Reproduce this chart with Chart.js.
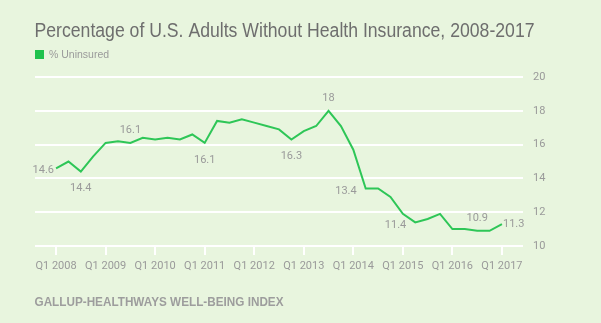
<!DOCTYPE html>
<html lang="en">
<head>
  <meta charset="UTF-8">
  <title>Percentage of U.S. Adults Without Health Insurance, 2008-2017</title>
  <script src="https://cdn.jsdelivr.net/npm/chart.js"></script>
  <style>
    html, body {
      margin: 0;
      padding: 0;
      background-color: #e8f5de;
      overflow: hidden;
    }
    #uninsuredChart {
      position: absolute;
      left: 0;
      top: 0;
    }
  </style>
</head>
<body>
  <canvas id="uninsuredChart" width="601" height="323"></canvas>

  <script>
    // Q1 2008 .. Q1 2017, one value per quarter
    const uninsured = [
      14.6, 15.0, 14.4, 15.3, 16.1, 16.2, 16.1, 16.4, 16.3, 16.4, 16.3, 16.6,
      16.1, 17.4, 17.3, 17.5, 17.3, 17.1, 16.9, 16.3, 16.8, 17.1, 18.0, 17.1,
      15.7, 13.4, 13.4, 12.9, 11.9, 11.4, 11.6, 11.9, 11.0, 11.0, 10.9, 10.9,
      11.3
    ];
    const tickLabels = ['Q1 2008', 'Q1 2009', 'Q1 2010', 'Q1 2011', 'Q1 2012',
      'Q1 2013', 'Q1 2014', 'Q1 2015', 'Q1 2016', 'Q1 2017'];
    const yTicks = [10, 12, 14, 16, 18, 20];
    // quarters that carry a value label
    const labeled = [0, 2, 6, 12, 19, 22, 25, 29, 34, 36];

    const titleText = 'Percentage of U.S. Adults Without Health Insurance, 2008-2017';
    const seriesName = '% Uninsured';
    const sourceText = 'GALLUP-HEALTHWAYS WELL-BEING INDEX';

    const green = '#2ec657';
    const grey = '#9a9a9a';

    // where each value label sits relative to its point
    const labelSpot = {
      0: 'left', 2: 'below', 6: 'above', 12: 'below', 19: 'below',
      22: 'above', 25: 'leftLow', 29: 'leftLow', 34: 'above', 36: 'right'
    };

    // the original uses a condensed face, so squeeze text to its width
    function narrowText(ctx, txt, x, y, width) {
      const w = ctx.measureText(txt).width;
      ctx.save();
      ctx.translate(x, y);
      ctx.scale(width / w, 1);
      ctx.fillText(txt, 0, 0);
      ctx.restore();
    }

    const textPlugin = {
      id: 'texts',
      beforeDraw(chart) {
        const ctx = chart.ctx;
        ctx.save();
        ctx.textBaseline = 'alphabetic';
        ctx.textAlign = 'left';
        ctx.fillStyle = '#6e6e6e';
        ctx.font = '20px "Liberation Sans", sans-serif';
        narrowText(ctx, titleText, 34.5, 36.5, 500);

        ctx.fillStyle = '#1fc24d';
        ctx.fillRect(35, 50, 9, 9);
        ctx.fillStyle = grey;
        ctx.font = '10.5px "Liberation Sans", sans-serif';
        ctx.fillText(seriesName, 49, 58);

        ctx.fillStyle = '#9d9d9d';
        ctx.font = 'bold 13px "Liberation Sans", sans-serif';
        narrowText(ctx, sourceText, 34.5, 305.5, 249);
        ctx.restore();
      },
      afterDatasetsDraw(chart) {
        const ctx = chart.ctx;
        const pts = chart.getDatasetMeta(0).data;
        ctx.save();
        ctx.fillStyle = grey;
        ctx.font = '11px Roboto, sans-serif';
        labeled.forEach(i => {
          const p = pts[i];
          const txt = String(uninsured[i]).replace(/\.0$/, '');
          const spot = labelSpot[i];
          ctx.textBaseline = 'middle';
          if (spot === 'left') {
            ctx.textAlign = 'right';
            ctx.fillText(txt, p.x - 2, p.y + 2);
          } else if (spot === 'leftLow') {
            ctx.textAlign = 'right';
            ctx.fillText(txt, p.x - 9, p.y + 3);
          } else if (spot === 'right') {
            ctx.textAlign = 'left';
            ctx.fillText(txt, p.x + 1, p.y);
          } else if (spot === 'above') {
            ctx.textAlign = 'center';
            ctx.fillText(txt, p.x, p.y - 13);
          } else {
            ctx.textAlign = 'center';
            ctx.fillText(txt, p.x, p.y + 17);
          }
        });
        ctx.restore();
      }
    };

    const ctx = document.getElementById('uninsuredChart').getContext('2d');
    new Chart(ctx, {
      type: 'line',
      data: {
        datasets: [{
          label: seriesName,
          data: uninsured.map((v, i) => ({ x: i, y: v })),
          borderColor: green,
          borderWidth: 2,
          pointRadius: 0,
          tension: 0,
          fill: false
        }]
      },
      options: {
        responsive: false,
        animation: false,
        layout: { padding: { left: 35, top: 77, right: 0, bottom: 0 } },
        plugins: {
          legend: { display: false },
          tooltip: { enabled: false }
        },
        scales: {
          x: {
            type: 'linear',
            min: -1.7,
            max: 37.7,
            afterBuildTicks: scale => {
              scale.ticks = tickLabels.map((_, k) => ({ value: k * 4 }));
            },
            afterFit: scale => { scale.height = 77; },
            border: { display: false },
            grid: {
              drawOnChartArea: false,
              drawTicks: true,
              tickLength: 9,
              color: '#ffffff',
              lineWidth: 2
            },
            ticks: {
              autoSkip: false,
              maxRotation: 0,
              padding: 5,
              color: grey,
              font: { family: 'Roboto', size: 11 },
              callback: value => tickLabels[value / 4]
            }
          },
          y: {
            position: 'right',
            min: 10,
            max: 20,
            afterBuildTicks: scale => {
              scale.ticks = yTicks.map(v => ({ value: v }));
            },
            afterFit: scale => { scale.width = 78; },
            border: { display: false },
            grid: {
              drawTicks: false,
              color: '#ffffff',
              lineWidth: 2
            },
            ticks: {
              padding: 10,
              color: grey,
              font: { family: 'Roboto', size: 11 }
            }
          }
        }
      },
      plugins: [textPlugin]
    });
  </script>
</body>
</html>
